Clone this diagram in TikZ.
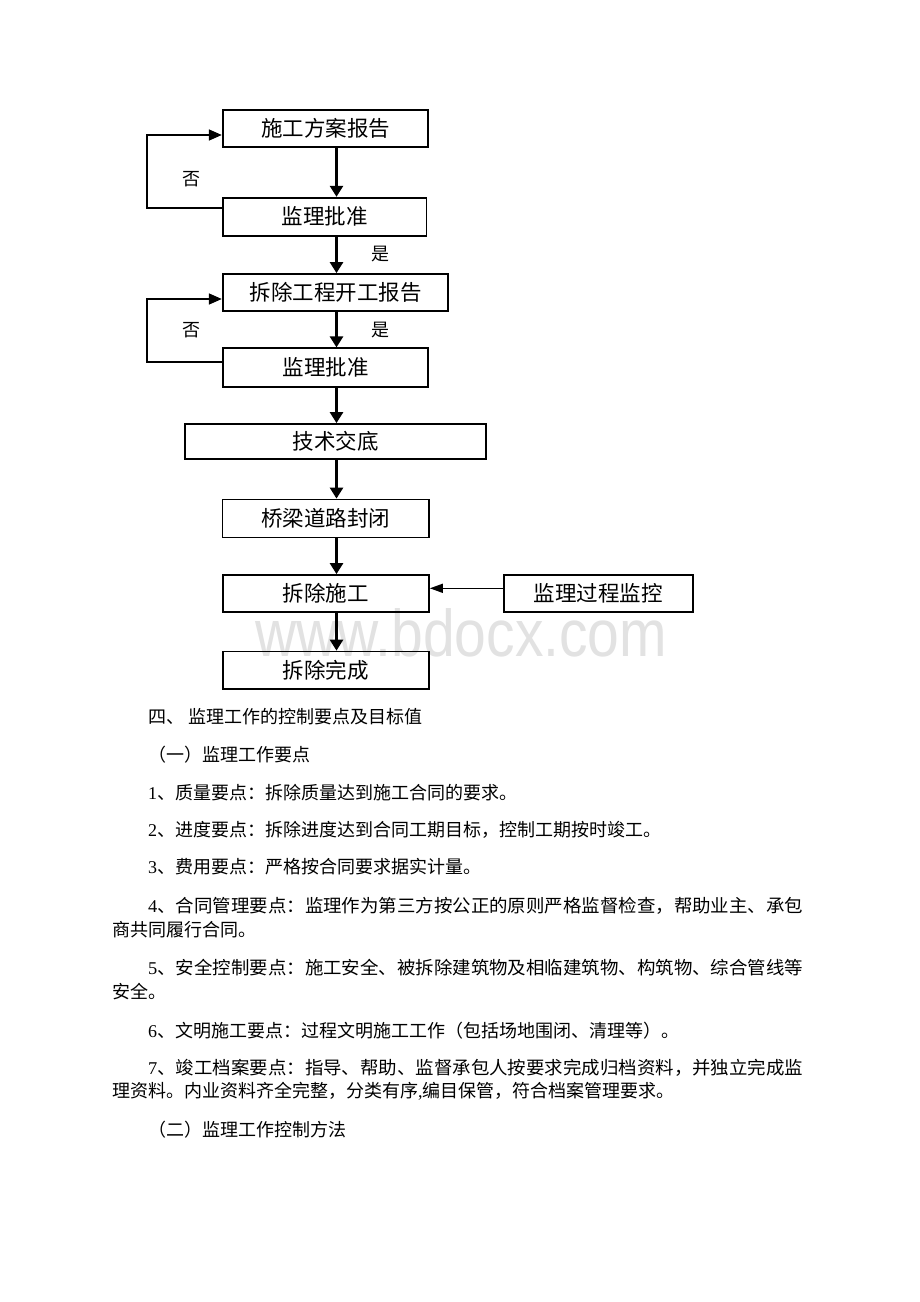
\documentclass[tikz,border=0pt]{standalone}
\usepackage{fontspec}
\usepackage{graphicx}
\setmainfont{Liberation Serif}
\newfontfamily\cjk{Noto Sans CJK SC}
\newfontfamily\wmfont{Liberation Sans}
\usetikzlibrary{arrows.meta}
\definecolor{wm}{RGB}{226,226,226}
\newcommand\lat[1]{{\rmfamily #1}}
\begin{document}
\begin{tikzpicture}[x=1pt,y=-1pt,
  box/.style={draw, line width=1.8pt, inner sep=0pt, font=\cjk\fontsize{21.5}{21.5}\selectfont},
  varr/.style={line width=2.6pt, -{Triangle[width=13pt,length=11pt]}},
  larr/.style={line width=1.7pt, line join=miter, -{Triangle[width=11pt,length=13pt]}},
  harr/.style={line width=1.5pt, -{Triangle[width=9pt,length=13pt]}},
  lbl/.style={font=\cjk\fontsize{18}{18}\selectfont, inner sep=0pt},
  body/.style={font=\cjk\fontsize{18}{18}\selectfont, inner sep=0pt, anchor=west},
]
\useasboundingbox[fill=white] (0,0) rectangle (920,1302);

% watermark
\node[text=wm, inner sep=0pt, anchor=base west] (wmark) at (255,656.5)
  {\resizebox{412pt}{0.92\height}{\wmfont\fontsize{72pt}{72pt}\selectfont www.bdocx.com}};

% boxes
\node[box, minimum width=205.6pt, minimum height=36.7pt] (b1) at (325.5,128.3) {施工方案报告};
\node[box, minimum width=203.8pt, minimum height=38pt]   (b2) at (324.6,216.7) {监理批准};
\node[box, minimum width=225.6pt, minimum height=37pt]   (b3) at (335.5,292.5) {拆除工程开工报告};
\node[box, minimum width=205.6pt, minimum height=38.4pt] (b4) at (325.5,367.5) {监理批准};
\node[box, minimum width=301pt,   minimum height=35pt]   (b5) at (335.5,441.5) {技术交底};
\node[box, minimum width=206.5pt, minimum height=38pt]   (b6) at (325.8,518.5) {桥梁道路封闭};
\node[box, minimum width=206.3pt, minimum height=37pt]   (b7) at (325.8,593.5) {拆除施工};
\node[box, minimum width=188.7pt, minimum height=37pt]   (b8) at (598.4,593.5) {监理过程监控};
\node[box, minimum width=206.3pt, minimum height=37.3pt] (b9) at (325.8,670.2) {拆除完成};

% vertical arrows
\coordinate (ax) at (336.5,0);
\draw[varr] (b1.south -| ax) -- (b2.north -| ax);
\draw[varr] (b2.south -| ax) -- (b3.north -| ax);
\draw[varr] (b3.south -| ax) -- (b4.north -| ax);
\draw[varr] (b4.south -| ax) -- (b5.north -| ax);
\draw[varr] (b5.south -| ax) -- (b6.north -| ax);
\draw[varr] (b6.south -| ax) -- (b7.north -| ax);
\draw[varr] (b7.south -| ax) -- (b9.north -| ax);

% loops
\coordinate (l1b) at (147.3,208.3);
\coordinate (l1t) at (147.3,135);
\draw[larr] (b2.west |- l1b) -- (l1b) -- (l1t) -- (b1.west |- l1t);
\coordinate (l2b) at (147.3,362.3);
\coordinate (l2t) at (147.3,299);
\draw[larr] (b4.west |- l2b) -- (l2b) -- (l2t) -- (b3.west |- l2t);

% horizontal arrow
\coordinate (hy) at (0,588.3);
\draw[harr] (b8.west |- hy) -- (b7.east |- hy);

% labels
\node[lbl] (n1) at (191.7,179.3) {否};
\node[lbl] (y1) at (380,254) {是};
\node[lbl] (n2) at (191.7,330) {否};
\node[lbl] (y2) at (380,330) {是};

% body text
\node[body] (t0) at (148,717) {四、\hspace{4pt}监理工作的控制要点及目标值};
\node[body] (t1) at (148,755) {（一）监理工作要点};
\node[body] (t2) at (148,793) {\lat{1}、质量要点：拆除质量达到施工合同的要求。};
\node[body] (t3) at (148,830) {\lat{2}、进度要点：拆除进度达到合同工期目标，控制工期按时竣工。};
\node[body] (t4) at (148,867) {\lat{3}、费用要点：严格按合同要求据实计量。};
\node[body] (t5) at (148,906) {\resizebox{655pt}{\height}{\lat{4}、合同管理要点：监理作为第三方按公正的原则严格监督检查，帮助业主、承包}};
\node[body] (t5b) at (112,930) {商共同履行合同。};
\node[body] (t6) at (148,968) {\resizebox{655pt}{\height}{\lat{5}、安全控制要点：施工安全、被拆除建筑物及相临建筑物、构筑物、综合管线等}};
\node[body] (t6b) at (112,992) {安全。};
\node[body] (t7) at (148,1031) {\lat{6}、文明施工要点：过程文明施工工作（包括场地围闭、清理等）。};
\node[body] (t8) at (148,1068) {\resizebox{655pt}{\height}{\lat{7}、竣工档案要点：指导、帮助、监督承包人按要求完成归档资料，并独立完成监}};
\node[body] (t8b) at (112,1091) {理资料。内业资料齐全完整，分类有序\lat{,}编目保管，符合档案管理要求。};
\node[body] (t9) at (148,1130) {（二）监理工作控制方法};
\end{tikzpicture}
\end{document}
